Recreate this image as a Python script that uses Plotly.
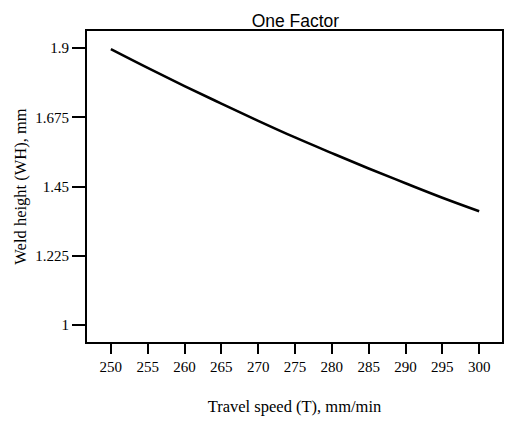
import plotly.graph_objects as go

travel_speed = [250, 255, 260, 265, 270, 275, 280, 285, 290, 295, 300]
weld_height = [1.897, 1.836, 1.777, 1.720, 1.664, 1.610, 1.559, 1.509, 1.461, 1.414, 1.370]

x_ticks = [250, 255, 260, 265, 270, 275, 280, 285, 290, 295, 300]
y_ticks = [1, 1.225, 1.45, 1.675, 1.9]
y_tick_labels = ["1", "1.225", "1.45", "1.675", "1.9"]

fig = go.Figure()
fig.add_trace(go.Scatter(
    x=travel_speed, y=weld_height, mode="lines",
    line=dict(color="black", width=2.5, shape="spline"),
    showlegend=False,
))

serif = "Liberation Serif, Times New Roman, serif"
fig.update_layout(
    width=505, height=421,
    margin=dict(l=87, r=1, t=31, b=79),
    paper_bgcolor="white", plot_bgcolor="white",
    title=dict(text="One Factor", x=0.585, xanchor="center", y=0.95, yanchor="middle",
               font=dict(family="Liberation Sans, Arial, sans-serif", size=17.5, color="black")),
    xaxis=dict(
        range=[246.76, 303.1], tickvals=x_ticks,
        ticks="outside", ticklen=10, tickwidth=2, tickcolor="black",
        showline=True, linecolor="black", linewidth=2, mirror=True,
        showgrid=False, zeroline=False,
        tickfont=dict(family=serif, size=15, color="black"),
        title=dict(text="Travel speed (T), mm/min", standoff=26,
                   font=dict(family=serif, size=16.5, color="black")),
    ),
    yaxis=dict(
        range=[0.945, 1.956], tickvals=y_ticks, ticktext=y_tick_labels,
        ticks="outside", ticklen=13, tickwidth=2, tickcolor="black",
        showline=True, linecolor="black", linewidth=2, mirror=True,
        showgrid=False, zeroline=False,
        tickfont=dict(family=serif, size=15, color="black"),
        title=dict(text="Weld height (WH), mm", standoff=4,
                   font=dict(family=serif, size=16.5, color="black")),
    ),
)

fig.write_html("out.html")
